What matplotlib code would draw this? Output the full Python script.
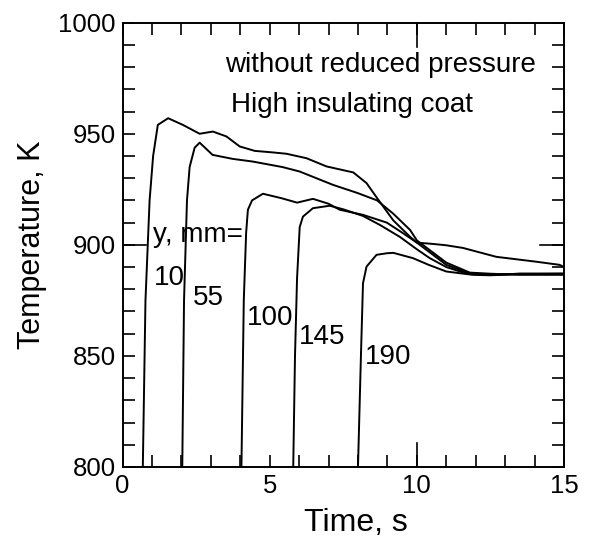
import matplotlib
matplotlib.use("Agg")
import matplotlib.pyplot as plt
from matplotlib.ticker import MultipleLocator, FixedLocator

plt.rcParams['font.family'] = ['Liberation Sans', 'DejaVu Sans']

# curves (time s, temperature K)
t10 = [0.69, 0.78, 0.92, 1.04, 1.2, 1.55, 2.05, 2.62, 3.07, 3.53, 3.98, 4.49, 5.11,
       5.57, 6.25, 6.93, 7.84, 8.29, 8.69, 9.2, 9.77, 10.0, 10.5, 11.0, 11.8, 12.5, 13.5, 15.0]
T10 = [800, 875, 920, 940, 954, 957, 954, 950, 951, 948.8, 944.3, 942.3, 941.6,
       941, 939, 935.3, 932.6, 927.8, 920.3, 911, 903.6, 901, 896, 891, 887, 886.5, 887, 887]

t55 = [2.03, 2.09, 2.19, 2.28, 2.45, 2.62, 3.06, 3.74, 4.42, 5.44, 6.02, 7.15, 7.97,
       8.65, 9.2, 9.77, 10.0, 10.5, 11.0, 11.8, 12.5, 13.5, 15.0]
T55 = [800, 875, 920, 935, 943.7, 946, 940.5, 938.7, 937.5, 935, 933, 927, 923.4,
       920, 914, 906.7, 902, 897, 892, 887.5, 887, 886.5, 886.5]

t100 = [4.04, 4.12, 4.2, 4.26, 4.4, 4.77, 5.4, 5.93, 6.47, 7.0, 7.38, 8.17, 8.98, 9.5,
        10.0, 10.55, 11.0, 11.57, 12.7, 14.0, 14.85, 15.0]
T100 = [800, 875, 905.4, 915.8, 920, 923, 921, 919, 920.7, 918.5, 915.8, 913.5, 910, 905.5,
        901, 900.4, 899.8, 898.6, 894.6, 892.5, 891, 890]

t145 = [5.8, 5.86, 5.93, 6.02, 6.13, 6.47, 7.04, 7.5, 8.17, 8.74, 9.42, 10.0, 10.44,
        11.0, 11.7, 12.5, 13.5, 15.0]
T145 = [800, 850, 885, 908, 912.7, 916.5, 917.6, 916, 913, 909, 903.6, 898, 894,
        890, 887, 886.5, 887, 887]

t190 = [8.0, 8.1, 8.17, 8.29, 8.63, 8.97, 9.2, 9.87, 10.4, 11.0, 11.9, 12.5, 13.5, 15.0]
T190 = [800, 850, 882.7, 890.2, 895.5, 896.2, 896.4, 894, 891, 888, 886.5, 886.3, 886.8, 887]

curves = [(t10, T10), (t55, T55), (t100, T100), (t145, T145), (t190, T190)]
labels = ["10", "55", "100", "145", "190"]
label_pos = [(1.07, 885), (2.4, 876), (4.23, 867), (6.0, 858.6), (8.25, 849.5)]

xticks = [0, 5, 10, 15]
yticks = [800, 850, 900, 950, 1000]
long_xtick = 10
long_ytick = 900

fig = plt.figure(figsize=(5.89, 5.39), dpi=100)
ax = fig.add_axes([0.208, 0.1336, 0.7496, 0.8243])

for t, T in curves:
    ax.plot(t, T, color="black", lw=1.4)

ax.set_xlim(0, 15)
ax.set_ylim(800, 1000)
ax.xaxis.set_major_locator(FixedLocator(xticks))
ax.xaxis.set_minor_locator(MultipleLocator(1))
ax.yaxis.set_major_locator(FixedLocator(yticks))
ax.yaxis.set_minor_locator(MultipleLocator(10))
ax.tick_params(which="both", direction="in", top=True, right=True,
               length=8.5, width=1.2, labelsize=18.5, pad=5)
for s in ax.spines.values():
    s.set_linewidth(1.4)

# longer centre ticks at t=10 and T=900 (all four sides)
L = 0.054
xt = ax.get_xaxis_transform()
yt = ax.get_yaxis_transform()
for a, b in [(0, L), (1 - L, 1)]:
    ax.plot([long_xtick, long_xtick], [a, b], transform=xt, color="black", lw=1.2, clip_on=False)
    ax.plot([a, b], [long_ytick, long_ytick], transform=yt, color="black", lw=1.2, clip_on=False)

ax.set_xlabel("Time, s", fontsize=23)
ax.set_ylabel("Temperature, K", fontsize=22)
ax.xaxis.set_label_coords(0.528, -0.092)
ax.yaxis.set_label_coords(-0.17, 0.5)

ax.text(3.49, 981, "without reduced pressure", fontsize=20, va="center")
ax.text(3.69, 963, "High insulating coat", fontsize=20, va="center")
ax.text(1.04, 904.5, "y, mm=", fontsize=20, va="center")
for lab, (x, y) in zip(labels, label_pos):
    ax.text(x, y, lab, fontsize=20, va="center")

fig.savefig("out.png", dpi=100, facecolor="white")
